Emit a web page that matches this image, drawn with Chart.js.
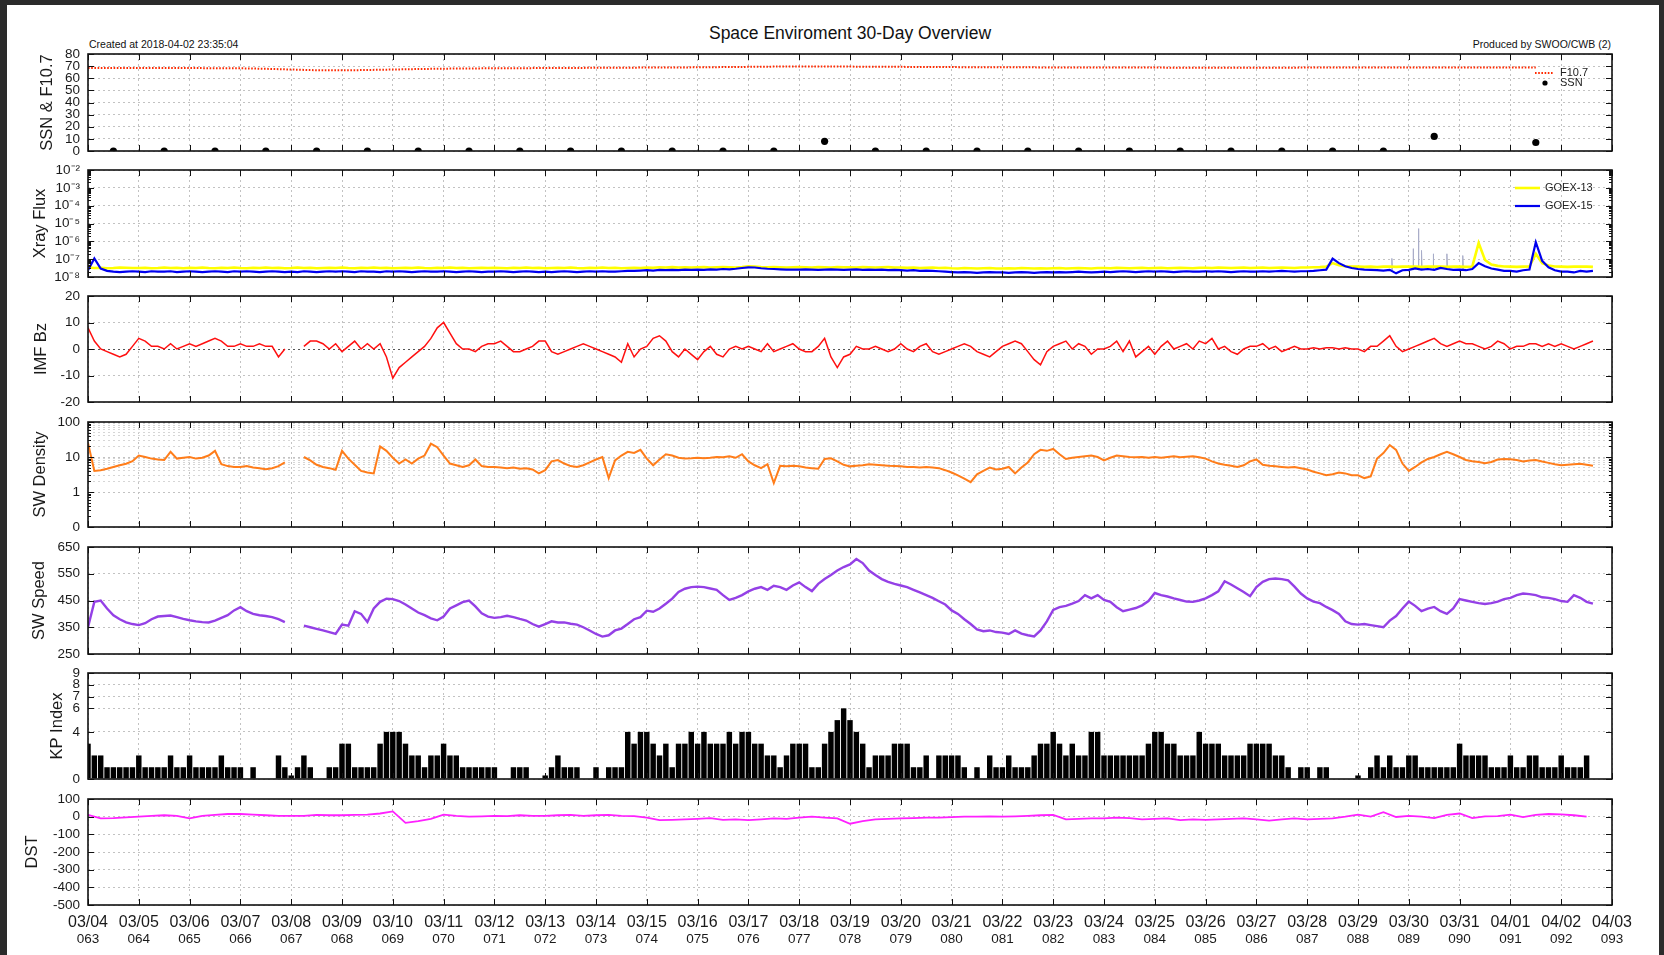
<!DOCTYPE html>
<html><head><meta charset="utf-8">
<script src="https://cdn.jsdelivr.net/npm/chart.js@4.4.0/dist/chart.umd.min.js"></script>
<style>
html,body{margin:0;padding:0;background:#2b2b2b;width:1664px;height:955px;overflow:hidden;}
#sheet{position:absolute;left:7px;top:5px;width:1652px;height:950px;background:#fff;}
canvas{position:absolute;left:0;}
.txt{position:absolute;font-family:"Liberation Sans",Arial,Helvetica,sans-serif;color:#111;white-space:nowrap;}
</style></head><body>
<div id="sheet"></div>
<div class="txt" id="title" style="left:850px;top:23px;font-size:17.5px;line-height:20px;transform:translateX(-50%);"></div>
<div class="txt" id="created" style="left:89px;top:38px;font-size:10.5px;line-height:13px;"></div>
<div class="txt" id="produced" style="right:53px;top:38px;font-size:10.5px;line-height:13px;"></div>
<script>
// ---------------- texts ----------------
const titleText = 'Space Enviroment 30-Day Overview';
const createdText = 'Created at 2018-04-02 23:35:04';
const producedText = 'Produced by SWOO/CWB (2)';

// ---------------- x axis labels (one tick per day, hour 0) ----------------
const dateLabels = ['03/04','03/05','03/06','03/07','03/08','03/09','03/10','03/11','03/12','03/13','03/14','03/15','03/16','03/17','03/18','03/19','03/20','03/21','03/22','03/23','03/24','03/25','03/26','03/27','03/28','03/29','03/30','03/31','04/01','04/02','04/03'];
const doyLabels = ['063','064','065','066','067','068','069','070','071','072','073','074','075','076','077','078','079','080','081','082','083','084','085','086','087','088','089','090','091','092','093'];

// ---------------- SSN (daily, noon) & F10.7 (every 12 h) ----------------
const ssnDaily = [0,0,0,0,0,0,0,0,0,0,0,0,0,0,8,0,0,0,0,0,0,0,0,0,0,0,12,null,7];
const f107HalfDaily = [68.5,68.5,68.5,68.4,68.4,68.3,68.2,67.8,67.2,66.6,66.5,66.8,67.2,67.6,67.9,68.1,68.2,68.3,68.4,68.5,68.6,68.7,68.8,68.9,69.0,69.2,69.4,69.6,69.7,69.7,69.6,69.5,69.4,69.3,69.2,69.1,69.0,69.0,68.9,68.9,68.8,68.8,68.8,68.7,68.7,68.7,68.7,68.7,68.8,68.8,68.8,68.9,68.9,68.9,68.9,68.9,68.9,68.9];

// ---------------- X-ray flux, 3-hourly, in units of 1e-8 W/m2 ----------------
const goes13 = [
3.4,3.2,3.3,3.1,3.2,3.4,3.3,3.2, 3.2,3.3,3.1,3.2,3.4,3.2,3.3,3.1, 3.3,3.2,3.4,3.2,3.1,3.3,3.2,3.4, 3.2,3.1,3.3,3.2,3.4,3.2,3.3,3.1,
3.2,3.4,3.2,3.3,3.1,3.2,3.3,3.2, 3.4,3.2,3.1,3.3,3.2,3.4,3.2,3.3, 3.1,3.2,3.3,3.2,3.4,3.2,3.1,3.3, 3.2,3.4,3.2,3.3,3.1,3.2,3.3,3.2,
3.3,3.2,3.1,3.3,3.2,3.4,3.2,3.3, 3.1,3.2,3.3,3.2,3.4,3.2,3.1,3.3, 3.2,3.4,3.2,3.3,3.1,3.2,3.3,3.2, 3.4,3.3,3.5,3.4,3.6,3.4,3.5,3.4,
3.5,3.6,3.4,3.5,3.6,3.5,3.4,3.6, 4.0,3.8,3.6,3.5,3.6,3.5,3.4,3.5, 3.6,3.5,3.4,3.6,3.5,3.4,3.6,3.5, 3.5,3.4,3.6,3.5,3.4,3.5,3.6,3.4,
3.4,3.3,3.4,3.2,3.3,3.4,3.2,3.3, 3.1,3.0,3.2,3.1,3.0,3.1,3.2,3.0, 3.0,3.1,3.0,3.2,3.1,3.0,3.1,3.0, 3.1,3.2,3.0,3.1,3.2,3.1,3.0,3.2,
3.2,3.1,3.3,3.2,3.1,3.2,3.3,3.1, 3.2,3.3,3.1,3.2,3.3,3.2,3.1,3.3, 3.3,3.2,3.4,3.3,3.2,3.3,3.4,3.2, 3.3,3.4,3.2,3.3,3.4,3.3,3.2,3.4,
3.4,3.5,3.6,3.8,6.0,4.6,4.0,3.8, 3.8,3.7,3.8,3.6,3.8,3.9,3.7,3.8, 3.8,3.9,3.7,3.8,3.9,3.8,3.7,3.9, 3.8,3.7,3.9,80,9.0,5.0,4.2,3.9,
3.8,3.7,3.8,3.9,20,6.0,4.4,3.9, 3.8,3.7,3.8,3.9,3.8,3.7];
const goes15 = [
2.4,11,3.0,2.2,2.0,1.9,2.0,2.1, 2.0,1.9,2.1,2.0,2.0,2.1,1.9,2.0, 2.1,2.0,1.9,2.0,2.1,2.0,1.9,2.1, 2.0,2.1,2.0,1.9,2.0,2.1,2.0,1.9,
2.0,1.9,2.1,2.0,1.9,2.0,2.1,2.0, 2.1,2.0,1.9,2.1,2.0,2.0,1.9,2.1, 2.0,2.1,2.0,1.9,2.0,2.1,2.0,2.0, 2.1,2.0,1.9,2.0,2.1,2.0,1.9,2.0,
2.0,2.1,2.0,1.9,2.0,2.1,2.0,1.9, 2.0,1.9,2.0,2.1,2.0,1.9,2.0,2.1, 2.0,2.1,2.0,2.0,2.1,2.2,2.2,2.3, 2.4,2.3,2.5,2.4,2.5,2.4,2.6,2.5,
2.6,2.5,2.7,2.6,2.8,2.7,2.9,3.2, 3.5,3.4,3.1,2.9,2.8,2.7,2.6,2.6, 2.6,2.7,2.6,2.5,2.6,2.7,2.6,2.5, 2.6,2.7,2.5,2.6,2.5,2.6,2.4,2.5,
2.4,2.3,2.4,2.2,2.3,2.2,2.1,2.0, 1.9,1.8,1.9,1.8,1.7,1.8,1.9,1.8, 1.8,1.7,1.8,1.9,1.8,1.7,1.8,1.9, 1.8,1.9,1.8,1.9,2.0,1.9,1.8,1.9,
2.0,1.9,2.0,2.1,2.0,1.9,2.0,2.1, 2.0,2.1,2.0,1.9,2.0,2.1,2.0,2.0, 2.1,2.0,2.1,2.0,1.9,2.0,2.1,2.0, 2.0,2.1,2.0,2.1,2.2,2.1,2.0,2.1,
2.1,2.2,2.4,2.6,10.7,6.0,4.0,3.2, 2.8,2.6,2.5,2.4,2.3,2.5,1.6,2.4, 2.5,3.0,2.6,2.8,2.5,3.2,2.8,2.5, 2.6,2.4,2.8,6.0,4.0,3.0,2.6,2.2,
2.2,2.0,2.4,2.6,90,8.0,3.5,2.4, 2.0,2.0,1.8,2.2,2.0,2.2];
const xraySpikeHours = [616, 626, 628.5, 630, 635.5, 642, 649.5];
const xraySpikePeaks = [11, 39, 520, 31, 20, 20, 16];

// ---------------- IMF Bz (nT), 3-hourly ----------------
const imfBz = [
8,3,0,-1,-2,-3,-2,1, 4,3,1,1,0,2,0,1, 2,1,2,3,4,3,1,1, 2,1,1,2,1,1,-3,0,
null,null,1,3,3,2,0,2, -1,1,3,0,2,0,2,-3, -11,-7,-5,-3,-1,1,4,8, 10,6,2,0,0,-1,1,2,
2,3,1,-1,-1,0,1,3, 3,-1,-2,-1,0,1,2,1, 0,-1,-2,-3,-5,2,-3,0, 1,4,5,3,-1,-3,0,-2,
-4,-1,1,-2,-3,0,1,0, 1,0,-1,2,-1,0,1,2, 0,-1,-1,1,4,-3,-7,-3, -2,1,0,0,1,0,-1,0,
2,0,-1,1,2,-1,-2,-1, 0,1,2,1,-1,-2,-3,-1, 1,2,3,2,-1,-4,-6,-1, 1,2,3,0,2,1,-2,0,
0,1,3,-1,3,-3,-1,1, -2,1,3,0,1,2,0,3, 2,4,0,1,-1,-2,0,1, 1,2,0,1,-1,0,1,0,
0,0.5,0,0.5,0.5,0,0.5,0, 0,-1,1,1,3,5,1,-1, 0,1,2,3,4,2,1,2, 3,2,2,1,0,1,3,2,
0,1,1,2,2,1,2,1, 2,1,0,1,2,3];

// ---------------- Solar wind density (cm^-3), 3-hourly ----------------
const swDensity = [
25,4.0,4.2,4.6,5.2,5.8,6.4,7.6, 11,10,9,8.5,8.2,14,9,9.5, 10,9,9.5,11,15,6.2,5.5,5.2, 5.2,5.5,5.0,4.8,4.5,4.8,5.5,7.0,
null,null,10,8,6,5.2,4.8,4.3, 15,9,6,4,3.6,3.4,20,15, 9.5,6.5,8.5,6.5,9,11,24,19, 11,6.5,5.8,5.2,5.8,8.5,5.5,5.2,
5.2,5.0,4.8,5.0,4.6,4.8,4.4,3.4, 4.2,7.5,8.2,6.5,5.5,5.2,5.8,7.0, 8.5,10,2.5,8,11,14,13,16, 9,5.8,8.5,12,11,9.5,9,9.2,
9.5,9.2,9.5,10,9.8,10.5,9.5,12, 7.5,5.8,4.8,6.2,1.8,5.6,5.4,5.6, 5.4,5.0,4.8,4.6,8.8,9.2,7.5,6.0, 5.4,5.6,5.8,6.2,6.0,5.8,5.6,5.5,
5.4,5.2,5.2,5.0,5.2,5.0,4.8,4.2, 3.6,3.0,2.4,1.9,3.2,4.0,5.0,4.4, 4.6,5.2,3.4,5.0,7.0,12,16,15, 17,12,8.8,9.5,10,10.5,11,10,
8,9.5,11,10.5,10,9.8,10,9.5, 10,9.5,10,10.5,9.8,10.2,10.5,9.8, 9,7.5,6.5,6.0,5.6,5.2,5.8,7.5, 8.5,6.0,5.6,5.4,5.2,5.0,5.2,4.8,
4.4,3.8,3.4,3.0,3.2,3.6,3.4,3.0, 3.0,2.5,2.8,9,13,22,16,6.5, 4.0,5.2,7,8.8,10,12,14,12, 10,8.2,7.6,7.2,6.6,7.2,8.5,8.8,
8.6,8.2,7.5,8.0,8.2,7.4,6.8,6.2, 5.8,6.0,6.2,6.4,6.0,5.6];

// ---------------- Solar wind speed (km/s), 3-hourly ----------------
const swSpeed = [
350,445,450,420,395,380,368,362, 358,365,380,390,392,394,388,381, 376,372,369,368,375,385,395,413, 425,410,400,395,392,388,380,369,
null,null,356,350,344,338,332,325, 360,356,410,400,370,420,445,457, 455,448,435,420,405,395,383,376, 390,420,432,444,450,428,402,390,
385,388,393,388,381,375,362,352, 362,372,368,368,363,360,350,338, 325,315,320,338,345,362,380,388, 412,408,420,438,457,482,494,500,
502,500,495,490,470,452,460,470, 484,494,500,490,505,500,490,506, 518,500,485,512,530,545,562,575, 585,605,590,562,545,530,520,512,
506,500,490,480,470,460,447,435, 413,400,380,362,342,335,338,332, 330,325,338,326,320,316,338,372, 415,425,430,438,448,470,458,470,
452,445,425,410,416,422,432,448, 478,470,465,458,452,446,445,450, 458,470,484,522,510,496,482,466, 500,520,530,532,530,525,502,476,
458,446,440,426,414,400,372,362, 360,362,358,354,350,375,392,420, 446,430,410,420,426,410,400,420, 455,450,445,440,437,440,446,455,
460,470,476,474,470,462,460,455, 448,445,470,460,445,438];

// ---------------- Kp index, 3-hourly ----------------
const kpIndex = [
3,2,2,1,1,1,1,1, 2,1,1,1,1,2,1,1, 2,1,1,1,1,2,1,1, 1,0,1,0,0,0,2,1,
0.3,1,2,1,0,0,1,1, 3,3,1,1,1,1,3,4, 4,4,3,2,2,1,2,2, 3,2,2,1,1,1,1,1,
1,0,0,1,1,1,0,0, 0.3,1,2,1,1,1,0,0, 1,0,1,1,1,4,3,4, 4,3,2,3,1,3,3,4,
3,4,3,3,3,4,3,4, 4,3,3,2,2,1,2,3, 3,3,1,1,3,4,5,6, 5,4,3,1,2,2,2,3,
3,3,1,1,2,0,2,2, 2,2,1,0,1,0,2,1, 1,2,1,1,1,2,3,3, 4,3,2,3,2,2,4,4,
2,2,2,2,2,2,2,3, 4,4,3,3,2,2,2,4, 3,3,3,2,2,2,2,3, 3,3,3,2,2,1,0,1,
1,0,1,1,0,0,0,0, 0.3,0,1,2,1,2,1,1, 2,2,1,1,1,1,1,1, 3,2,2,2,2,1,1,1,
2,1,1,2,2,1,1,1, 2,1,1,1,2];

// ---------------- Dst (nT), 6-hourly ----------------
const dstIndex = [
10,-10,-8,-4, 0,5,8,5, -10,5,10,15, 15,12,8,5, 5,5,10,8, 8,10,12,18, 30,-35,-25,-12, 12,5,0,2,
5,3,8,5, 5,8,10,5, 8,10,5,3, -5,-20,-18,-15, -12,-8,-18,-15, -20,-15,-10,-12, -5,0,-5,-10, -40,-25,-15,-12,
-10,-8,-5,-5, -3,0,0,2, 0,2,5,8, 10,-15,-12,-10, -10,-5,-8,-15, -12,-10,-20,-15, -18,-15,-12,-10, -15,-22,-15,-10,
-15,-12,-10,0, 12,0,25,-2, 5,0,-8,10, 18,-8,2,3, 12,-3,10,15, 13,8,0];

// ---------------- y tick definitions ----------------
const xrayTickValues = [1e-8,1e-7,1e-6,1e-5,1e-4,1e-3,1e-2];
const xrayTickLabels = ['10\u207B\u2078','10\u207B\u2077','10\u207B\u2076','10\u207B\u2075','10\u207B\u2074','10\u207B\u00B3','10\u207B\u00B2'];
const densityTickValues = [0.1, 1, 10, 100];
const densityTickLabels = ['0', '1', '10', '100'];
const kpTickValues = [0, 4, 6, 7, 8, 9];

// ====================================================================
document.getElementById('title').textContent = titleText;
document.getElementById('created').textContent = createdText;
document.getElementById('produced').textContent = producedText;

const FONT = '"Liberation Sans", Arial, Helvetica, sans-serif';
Chart.defaults.font.family = FONT;
Chart.defaults.color = '#1a1a1a';
const GRID = '#c2c2c2';
const DASH = [2, 3];

function pts(arr, step, offset) { return arr.map((v, i) => ({ x: offset + i * step, y: v })); }
function near(a, b) { return Math.abs(a - b) <= Math.abs(b) * 1e-6; }

const framePlugin = {
  id: 'frame',
  afterDraw(chart) {
    const { ctx, chartArea: a, scales } = chart;
    const xs = scales.x, ys = scales.y;
    ctx.save();
    ctx.strokeStyle = '#111';
    ctx.lineWidth = 1;
    ctx.beginPath();
    xs.ticks.forEach(t => {
      const px = Math.round(xs.getPixelForValue(t.value)) + 0.5;
      ctx.moveTo(px, a.top); ctx.lineTo(px, a.top + 6);
      ctx.moveTo(px, a.bottom); ctx.lineTo(px, a.bottom - 6);
    });
    ys.ticks.forEach(t => {
      const py = Math.round(ys.getPixelForValue(t.value)) + 0.5;
      const len = t.minor ? 3 : 6;
      ctx.moveTo(a.left, py); ctx.lineTo(a.left + len, py);
      ctx.moveTo(a.right, py); ctx.lineTo(a.right - len, py);
    });
    ctx.stroke();
    ctx.lineWidth = 1.6;
    ctx.strokeRect(a.left, a.top, a.right - a.left, a.bottom - a.top);
    ctx.restore();
  }
};

function legendPlugin(canvasTop, rows) {
  return {
    id: 'panelLegend',
    afterDraw(chart) {
      const ctx = chart.ctx;
      ctx.save();
      ctx.font = '11px ' + FONT;
      ctx.textBaseline = 'middle';
      rows.forEach(r => {
        const ds = chart.data.datasets[r.ds];
        const y = r.y - canvasTop;
        if (ds.showLine === false) {
          ctx.fillStyle = ds.pointBackgroundColor;
          ctx.beginPath(); ctx.arc((r.x1 + r.x2) / 2, y, 2.6, 0, Math.PI * 2); ctx.fill();
        } else {
          ctx.strokeStyle = ds.borderColor;
          ctx.lineWidth = ds.borderWidth;
          ctx.setLineDash(ds.borderDash || []);
          ctx.beginPath(); ctx.moveTo(r.x1, y); ctx.lineTo(r.x2, y); ctx.stroke();
          ctx.setLineDash([]);
        }
        ctx.fillStyle = '#222';
        ctx.fillText(ds.label, r.tx, y);
      });
      ctx.restore();
    }
  };
}

function xAxis(showLabels) {
  return {
    type: 'linear', min: 0, max: 720, offset: false, weight: 0,
    afterBuildTicks: s => { s.ticks = dateLabels.map((_, i) => ({ value: i * 24 })); },
    afterFit: s => { s.height = showLabels ? 26 : 0; s.paddingLeft = 0; s.paddingRight = 0; s.paddingTop = 0; s.paddingBottom = 0; },
    grid: { color: GRID, lineWidth: 1, drawTicks: false, offset: false },
    border: { display: false, dash: DASH },
    ticks: showLabels
      ? { display: true, autoSkip: false, maxRotation: 0, minRotation: 0, padding: 10, font: { size: 16, lineHeight: 1 }, color: '#1a1a1a', callback: (v, i) => dateLabels[i] }
      : { display: false }
  };
}

function yAxis(title, titleCenter, o) {
  return Object.assign({
    position: 'left',
    afterFit: s => { s.width = 88; s.paddingTop = 0; s.paddingBottom = 0; s.paddingLeft = 0; s.paddingRight = 0; },
    grid: { color: GRID, lineWidth: 1, drawTicks: false },
    border: { display: false, dash: DASH },
    ticks: { padding: 8, autoSkip: false, font: { size: 13.5, lineHeight: 1.2 }, color: '#1a1a1a' },
    title: { display: true, text: title, color: '#1a1a1a', font: { size: 16.5, lineHeight: 1.2 }, padding: { top: titleCenter - 9.9, bottom: 0 } }
  }, o);
}

function makeChart(top, bottom, isLast, config, extraPlugins) {
  const PT = 10;
  const PB = isLast ? 4 : 10;
  const xh = isLast ? 46 : 0;
  const canvasTop = top - PT;
  const h = (bottom - top) + PT + PB + xh;
  const c = document.createElement('canvas');
  c.width = 1664; c.height = h;
  c.style.top = canvasTop + 'px';
  c.style.width = '1664px'; c.style.height = h + 'px';
  document.body.appendChild(c);
  config.options = Object.assign({
    responsive: false, animation: false, events: [],
    layout: { autoPadding: false, padding: { top: PT, bottom: PB, left: 0, right: 52 } },
  }, config.options);
  config.options.plugins = Object.assign({ legend: { display: false }, tooltip: { enabled: false } }, config.options.plugins || {});
  config.plugins = [framePlugin].concat(extraPlugins ? extraPlugins(canvasTop) : []);
  return new Chart(c, config);
}

const lineBase = { pointRadius: 0, tension: 0, spanGaps: false, fill: false };

// ---------- Panel 1: SSN & F10.7 ----------
makeChart(54, 151, false, {
  type: 'line',
  data: { datasets: [
    Object.assign({ label: 'F10.7', data: pts(f107HalfDaily, 12, 0), borderColor: '#ff2a00', borderWidth: 2, borderDash: [1.6, 1.6] }, lineBase),
    { label: 'SSN', data: pts(ssnDaily, 24, 12), showLine: false, pointRadius: 3.6, pointBackgroundColor: '#000', pointBorderColor: '#000', pointBorderWidth: 0 }
  ]},
  options: { scales: {
    x: xAxis(false),
    y: yAxis('SSN & F10.7', 47, { min: 0, max: 80,
      ticks: { padding: 8, autoSkip: false, stepSize: 10, font: { size: 13.5, lineHeight: 1 }, color: '#1a1a1a' } })
  }}
}, ct => [legendPlugin(ct, [
  { ds: 0, x1: 1535, x2: 1554, tx: 1560, y: 73 },
  { ds: 1, x1: 1535, x2: 1555, tx: 1560, y: 83 }
])]);

// ---------- Panel 2: Xray flux ----------
function spikeSeries() {
  const out = [];
  xraySpikeHours.forEach((h, i) => {
    out.push({ x: h, y: 2.5e-8 }, { x: h, y: xraySpikePeaks[i] * 1e-8 }, { x: h + 0.3, y: 2.5e-8 }, { x: h + 0.31, y: null });
  });
  return out;
}
makeChart(170, 277, false, {
  type: 'line',
  data: { datasets: [
    Object.assign({ label: 'GOEX-15', data: goes15.map((v, i) => ({ x: i * 3, y: v * 1e-8 })), borderColor: '#0000ee', borderWidth: 2.2 }, lineBase),
    Object.assign({ label: 'GOEX-13', data: goes13.map((v, i) => ({ x: i * 3, y: v * 1e-8 })), borderColor: '#ffff00', borderWidth: 2.6 }, lineBase),
    Object.assign({ label: 'spikes', data: spikeSeries(), borderColor: '#a8acc8', borderWidth: 1 }, lineBase)
  ]},
  options: { scales: {
    x: xAxis(false),
    y: yAxis('Xray Flux', 40, { type: 'logarithmic', min: 1e-8, max: 1e-2,
      afterBuildTicks: s => {
        const t = [];
        for (let e = -8; e < -2; e++) for (let m = 1; m <= 9; m++) t.push({ value: m * Math.pow(10, e), minor: m > 1 });
        t.push({ value: 1e-2, minor: false });
        s.ticks = t;
      },
      grid: { drawTicks: false, lineWidth: 1, color: c => (c.tick && !c.tick.minor) ? GRID : 'rgba(0,0,0,0)' },
      ticks: { padding: 8, autoSkip: false, font: { size: 13.5, lineHeight: 1 }, color: '#1a1a1a',
        callback: v => { const i = xrayTickValues.findIndex(t => near(v, t)); return i >= 0 ? xrayTickLabels[i] : ''; } } })
  }}
}, ct => [legendPlugin(ct, [
  { ds: 1, x1: 1515, x2: 1540, tx: 1545, y: 188 },
  { ds: 0, x1: 1515, x2: 1540, tx: 1545, y: 206 }
])]);

// ---------- Panel 3: IMF Bz ----------
makeChart(296, 402, false, {
  type: 'line',
  data: { datasets: [
    Object.assign({ label: 'IMF Bz', data: pts(imfBz, 3, 0), borderColor: '#ff1010', borderWidth: 1.5 }, lineBase)
  ]},
  options: { scales: {
    x: xAxis(false),
    y: yAxis('IMF Bz', 41, { min: -20, max: 20,
      grid: { drawTicks: false, lineWidth: 1, color: c => (c.tick && c.tick.value === 0) ? '#555' : GRID },
      ticks: { padding: 8, autoSkip: false, stepSize: 10, font: { size: 13.5, lineHeight: 1 }, color: '#1a1a1a' } })
  }}
});

// ---------- Panel 4: SW Density ----------
makeChart(422, 527, false, {
  type: 'line',
  data: { datasets: [
    Object.assign({ label: 'SW Density', data: pts(swDensity, 3, 0), borderColor: '#ff7d1a', borderWidth: 2 }, lineBase)
  ]},
  options: { scales: {
    x: xAxis(false),
    y: yAxis('SW Density', 40, { type: 'logarithmic', min: 0.1, max: 100,
      afterBuildTicks: s => {
        const t = [];
        [0.1, 1, 10].forEach(d => { for (let m = 1; m <= 9; m++) t.push({ value: +(m * d).toPrecision(6), minor: m > 1 }); });
        t.push({ value: 100, minor: false });
        s.ticks = t;
      },
      grid: { drawTicks: false, lineWidth: 1, color: c => {
        if (!c.tick) return GRID;
        if (!c.tick.minor) return GRID;
        return c.tick.value >= 1 ? '#d6d6d6' : 'rgba(0,0,0,0)';
      } },
      ticks: { padding: 8, autoSkip: false, font: { size: 13.5, lineHeight: 1 }, color: '#1a1a1a',
        callback: v => { const i = densityTickValues.findIndex(t => near(v, t)); return i >= 0 ? densityTickLabels[i] : ''; } } })
  }}
});

// ---------- Panel 5: SW Speed ----------
makeChart(547, 654, false, {
  type: 'line',
  data: { datasets: [
    Object.assign({ label: 'SW Speed', data: pts(swSpeed, 3, 0), borderColor: '#9440e6', borderWidth: 2.4 }, lineBase)
  ]},
  options: { scales: {
    x: xAxis(false),
    y: yAxis('SW Speed', 39.7, { min: 250, max: 650,
      ticks: { padding: 8, autoSkip: false, stepSize: 100, font: { size: 13.5, lineHeight: 1 }, color: '#1a1a1a' } })
  }}
});

// ---------- Panel 6: KP index ----------
makeChart(673, 779, false, {
  type: 'bar',
  data: { datasets: [
    { label: 'KP Index', data: pts(kpIndex, 3, 0), backgroundColor: '#000', borderWidth: 0, barPercentage: 0.86, categoryPercentage: 1 }
  ]},
  options: { scales: {
    x: xAxis(false),
    y: yAxis('KP Index', 57.5, { type: 'linear', min: 0, max: 9, beginAtZero: true,
      afterBuildTicks: s => { s.ticks = kpTickValues.map(v => ({ value: v })); },
      ticks: { padding: 8, autoSkip: false, font: { size: 13.5, lineHeight: 1 }, color: '#1a1a1a' } })
  }}
});

// ---------- Panel 7: DST ----------
const lastX = xAxis(true);
const doyX = {
  type: 'linear', min: 0, max: 720, offset: false, weight: 1, position: 'bottom',
  afterBuildTicks: s => { s.ticks = doyLabels.map((_, i) => ({ value: i * 24 })); },
  afterFit: s => { s.height = 20; s.paddingLeft = 0; s.paddingRight = 0; },
  grid: { display: false, drawTicks: false },
  border: { display: false },
  ticks: { autoSkip: false, maxRotation: 0, minRotation: 0, padding: 2, font: { size: 13.5, lineHeight: 1 }, color: '#1a1a1a', callback: (v, i) => doyLabels[i] }
};
lastX.position = 'bottom';
makeChart(799, 905, true, {
  type: 'line',
  data: { datasets: [
    Object.assign({ label: 'DST', data: pts(dstIndex, 6, 0), borderColor: '#ff20ff', borderWidth: 1.8 }, lineBase)
  ]},
  options: { scales: {
    x: lastX,
    x2: doyX,
    y: yAxis('DST', 32.5, { min: -500, max: 100,
      ticks: { padding: 8, autoSkip: false, stepSize: 100, font: { size: 13.5, lineHeight: 1 }, color: '#1a1a1a' } })
  }}
});
</script>
</body></html>
